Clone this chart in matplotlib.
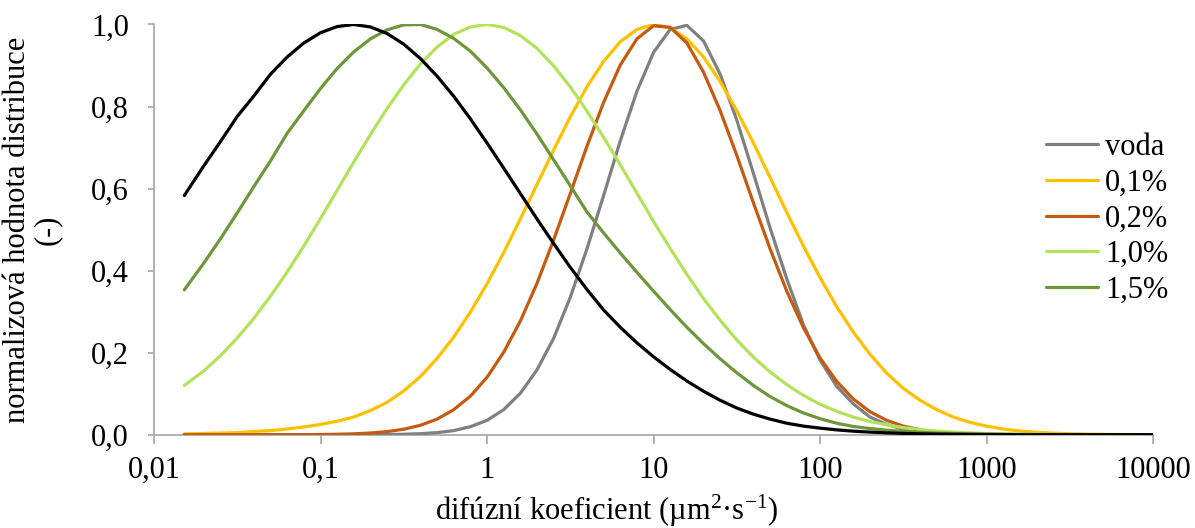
import matplotlib
matplotlib.use('Agg')
import matplotlib.pyplot as plt
import matplotlib.ticker as tkr

plt.rcParams['font.family'] = ['Liberation Serif', 'DejaVu Serif']
plt.rcParams['mathtext.fontset'] = 'custom'
plt.rcParams['mathtext.rm'] = 'Liberation Serif'
plt.rcParams['mathtext.it'] = 'Liberation Serif:italic'

# diffusion coefficient (um^2/s), every 0.1 decade
koef = [0.0152, 0.01995, 0.0251, 0.03162, 0.0398, 0.05012, 0.0631, 0.07943, 0.1, 0.1259,
        0.158, 0.1995, 0.251, 0.3162, 0.398, 0.5012, 0.631, 0.7943, 1.0, 1.259,
        1.585, 1.995, 2.512, 3.162, 3.981, 5.012, 6.31, 7.943, 10.0, 12.59,
        15.85, 19.95, 25.12, 31.62, 39.81, 50.12, 63.1, 79.43, 100.0, 125.9,
        158.5, 199.5, 251.2, 316.2, 398.1, 501.2, 631.0, 794.3, 1000.0, 1259.0,
        1585.0, 1995.0, 2512.0, 3162.0, 3981.0, 5012.0, 6310.0, 7943.0, 10000.0]

voda = [0, 0, 0, 0, 0, 0, 0, 0, 0, 0,
        0.0001, 0.0002, 0.0005, 0.0011, 0.0025, 0.0051, 0.010, 0.0196, 0.035, 0.061,
        0.101, 0.158, 0.235, 0.335, 0.453, 0.583, 0.716, 0.837, 0.932, 0.988,
        0.998, 0.960, 0.879, 0.767, 0.637, 0.504, 0.380, 0.268, 0.182, 0.118,
        0.075, 0.043, 0.025, 0.0134, 0.0068, 0.0033, 0.0015, 0.0007, 0.0003, 0.0001,
        0, 0, 0, 0, 0, 0, 0, 0, 0]

c01 = [0.002, 0.003, 0.004, 0.005, 0.008, 0.010, 0.014, 0.019, 0.025, 0.033,
       0.043, 0.059, 0.079, 0.107, 0.142, 0.186, 0.238, 0.299, 0.368, 0.444,
       0.526, 0.610, 0.694, 0.775, 0.848, 0.910, 0.958, 0.988, 1.000, 0.992,
       0.965, 0.921, 0.861, 0.790, 0.711, 0.627, 0.542, 0.460, 0.383, 0.312,
       0.250, 0.196, 0.150, 0.113, 0.084, 0.061, 0.043, 0.030, 0.021, 0.0138,
       0.0091, 0.0059, 0.0037, 0.0023, 0.0014, 0.0009, 0.0005, 0.0003, 0.0002]

c02 = [0, 0, 0, 0, 0, 0, 0.0001, 0.0002, 0.0005, 0.0011,
       0.0021, 0.0041, 0.0075, 0.0134, 0.023, 0.038, 0.061, 0.094, 0.140, 0.201,
       0.277, 0.369, 0.475, 0.588, 0.703, 0.810, 0.901, 0.965, 0.997, 0.993,
       0.955, 0.884, 0.790, 0.681, 0.565, 0.453, 0.350, 0.261, 0.187, 0.130,
       0.087, 0.056, 0.035, 0.021, 0.012, 0.0067, 0.0036, 0.0019, 0.0009, 0.0004,
       0.0002, 0, 0, 0, 0, 0, 0, 0, 0]

c10 = [0.120, 0.156, 0.193, 0.236, 0.284, 0.338, 0.397, 0.460, 0.527, 0.596,
       0.664, 0.732, 0.795, 0.853, 0.904, 0.945, 0.976, 0.994, 1.000, 0.993,
       0.973, 0.942, 0.899, 0.848, 0.789, 0.725, 0.658, 0.589, 0.520, 0.454,
       0.391, 0.332, 0.279, 0.231, 0.189, 0.153, 0.122, 0.096, 0.074, 0.057,
       0.043, 0.032, 0.024, 0.0173, 0.0124, 0.0088, 0.0062, 0.0043, 0.0029, 0.0020,
       0.0013, 0.0009, 0.0005, 0.0003, 0, 0, 0, 0, 0]

c15 = [0.353, 0.419, 0.478, 0.541, 0.605, 0.668, 0.735, 0.790, 0.844, 0.893,
       0.933, 0.965, 0.987, 0.999, 1.000, 0.988, 0.966, 0.935, 0.894, 0.846,
       0.792, 0.733, 0.670, 0.607, 0.543, 0.492, 0.443, 0.396, 0.350, 0.305,
       0.262, 0.222, 0.185, 0.151, 0.120, 0.093, 0.071, 0.053, 0.039, 0.028,
       0.020, 0.015, 0.011, 0.008, 0.0057, 0.004, 0.003, 0.002, 0.0013, 0.0009,
       0.0005, 0.0003, 0, 0, 0, 0, 0, 0, 0]

# black curve, not in the legend
c20 = [0.583, 0.656, 0.715, 0.776, 0.826, 0.879, 0.921, 0.955, 0.980, 0.995,
       1.000, 0.994, 0.978, 0.952, 0.917, 0.874, 0.825, 0.770, 0.711, 0.650,
       0.588, 0.526, 0.466, 0.408, 0.354, 0.304, 0.262, 0.224, 0.190, 0.159,
       0.131, 0.106, 0.084, 0.065, 0.050, 0.038, 0.028, 0.021, 0.016, 0.0118,
       0.0086, 0.0063, 0.0045, 0.0032, 0.0022, 0.0015, 0.001, 0.0007, 0.0005, 0.0003,
       0, 0, 0, 0, 0, 0, 0, 0, 0]

xticks = [0.01, 0.1, 1, 10, 100, 1000, 10000]
yticks = [0.0, 0.2, 0.4, 0.6, 0.8, 1.0]

fig = plt.figure(figsize=(11.95, 5.28), dpi=100)
ax = fig.add_axes([0.1289, 0.1767, 0.836, 0.7769])

lw = 2.3
ax.plot(koef, voda, color='#808080', lw=lw, label='voda', solid_capstyle='round')
ax.plot(koef, c01, color='#FFC000', lw=lw, label='0,1%', solid_capstyle='round')
ax.plot(koef, c02, color='#C55A11', lw=lw, label='0,2%', solid_capstyle='round')
ax.plot(koef, c10, color='#B2E35A', lw=lw, label='1,0%', solid_capstyle='round')
ax.plot(koef, c15, color='#6E963B', lw=lw, label='1,5%', solid_capstyle='round')
ax.plot(koef, c20, color='#000000', lw=lw, solid_capstyle='round')

ax.set_xscale('log')
ax.set_xlim(0.01, 10000)
ax.set_ylim(0, 1.0)
ax.xaxis.set_major_locator(tkr.FixedLocator(xticks))
ax.xaxis.set_minor_locator(tkr.NullLocator())
ax.yaxis.set_major_locator(tkr.FixedLocator(yticks))


def xfmt(x, pos):
    s = ('%g' % x) if x >= 1 else ('%.2f' % x if x < 0.1 else '%.1f' % x)
    return s.replace('.', ',')


def yfmt(y, pos):
    return ('%.1f' % y).replace('.', ',')


ax.xaxis.set_major_formatter(tkr.FuncFormatter(xfmt))
ax.yaxis.set_major_formatter(tkr.FuncFormatter(yfmt))

for side in ['top', 'right']:
    ax.spines[side].set_visible(False)
for side in ['left', 'bottom']:
    ax.spines[side].set_color('#ADADAD')
    ax.spines[side].set_linewidth(1.3)
    ax.spines[side].set_zorder(0)
ax.tick_params(axis='x', direction='out', length=6.5, width=1.3, color='#ADADAD',
               labelsize=22, pad=9)
ax.tick_params(axis='y', direction='out', length=4, width=1.3, color='#ADADAD',
               labelsize=22, pad=14)

ax.set_xlabel('difúzní koeficient (µm$^{2}$·s$^{-1}$)', fontsize=22)
ax.xaxis.set_label_coords(0.4535, -0.208)
ax.xaxis.label.set_va('baseline')
ax.set_ylabel('normalizová hodnota distribuce\n(-)', fontsize=22, linespacing=1.05)
ax.yaxis.set_label_coords(-0.092, 0.5)

fig.legend(loc='upper left', bbox_to_anchor=(1046 / 1195, 1 - 133 / 528),
           frameon=False, fontsize=22, handlelength=1.7, handletextpad=0.23,
           labelspacing=0.22, borderpad=0, borderaxespad=0)

fig.savefig('out.png', dpi=100)
